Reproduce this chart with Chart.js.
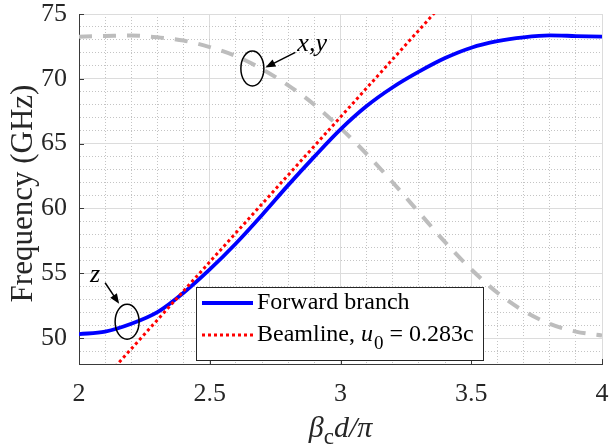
<!DOCTYPE html>
<html>
<head>
<meta charset="utf-8">
<script src="https://cdn.jsdelivr.net/npm/chart.js@4/dist/chart.umd.min.js"></script>
<style>
  html, body { margin: 0; padding: 0; background: #fff; }
  #wrap { width: 610px; height: 448px; position: relative; }
</style>
</head>
<body>
<div id="wrap"><canvas id="myChart"></canvas></div>
<script>
// DATA
const betaValues = [2.0, 2.1, 2.2, 2.3, 2.4, 2.5, 2.6, 2.7, 2.8, 2.9, 3.0,
                    3.1, 3.2, 3.3, 3.4, 3.5, 3.6, 3.7, 3.8, 3.9, 4.0];
const forwardBranch = [50.3, 50.5, 51.1, 52.0, 53.5, 55.3, 57.3, 59.5, 61.8, 64.0, 66.1,
                       67.9, 69.35, 70.55, 71.6, 72.4, 72.9, 73.2, 73.35, 73.3, 73.25];
const xyBranch = [73.25, 73.3, 73.35, 73.2, 72.95, 72.45, 71.75, 70.75, 69.5, 68.0, 66.2,
                  64.2, 62.0, 59.7, 57.4, 55.3, 53.5, 52.1, 51.1, 50.5, 50.2];
const beamX = [2, 4];
const beamY = [44.7, 89.4];
const xTickLabels = ["2", "2.5", "3", "3.5", "4"];
const yTickLabels = ["50", "55", "60", "65", "70", "75"];
const legendLabels = ["Forward branch", "Beamline, "];
const beamSpeed = "0.283c";
const yAxisTitle = "Frequency (GHz)";
const markLabels = ["z", "x,y"];
const markX = [2.184, 2.663];
const markY = [51.26, 70.8];

const serif = "'Liberation Serif', 'Times New Roman', serif";
const axisColor = "#3a3a3a";
const majorGrid = "#dcdcdc";
const minorGrid = "#c4c4c4";

function fmt(v) {
  return String(Math.round(v * 10) / 10);
}
function isMajorX(tick) {
  return tick && xTickLabels.includes(fmt(tick.value));
}
function isMajorY(tick) {
  return tick && yTickLabels.includes(fmt(tick.value));
}

// inward tick marks, MATLAB style
const innerTicks = {
  id: "innerTicks",
  afterDatasetsDraw(chart) {
    const { ctx, chartArea: a, scales } = chart;
    ctx.save();
    ctx.strokeStyle = axisColor;
    ctx.lineWidth = 1;
    ctx.beginPath();
    xTickLabels.forEach((t) => {
      const px = Math.round(scales.x.getPixelForValue(parseFloat(t))) + 0.5;
      ctx.moveTo(px, a.bottom);
      ctx.lineTo(px, a.bottom - 5);
    });
    yTickLabels.forEach((t) => {
      const py = Math.round(scales.y.getPixelForValue(parseFloat(t))) + 0.5;
      ctx.moveTo(a.left, py);
      ctx.lineTo(a.left + 5, py);
    });
    ctx.stroke();
    ctx.restore();
  },
};

function arrow(ctx, x1, y1, x2, y2) {
  const ang = Math.atan2(y2 - y1, x2 - x1);
  ctx.beginPath();
  ctx.moveTo(x1, y1);
  ctx.lineTo(x2 - 7 * Math.cos(ang), y2 - 7 * Math.sin(ang));
  ctx.stroke();
  ctx.beginPath();
  ctx.moveTo(x2, y2);
  ctx.lineTo(x2 - 10 * Math.cos(ang) + 4 * Math.sin(ang), y2 - 10 * Math.sin(ang) - 4 * Math.cos(ang));
  ctx.lineTo(x2 - 10 * Math.cos(ang) - 4 * Math.sin(ang), y2 - 10 * Math.sin(ang) + 4 * Math.cos(ang));
  ctx.closePath();
  ctx.fill();
}

// ellipses + arrows marking the polarisations
const marks = {
  id: "marks",
  afterDatasetsDraw(chart) {
    const { ctx, scales } = chart;
    ctx.save();
    ctx.strokeStyle = "#000";
    ctx.fillStyle = "#000";
    ctx.lineWidth = 1.5;
    ctx.font = "italic 26px " + serif;
    ctx.textBaseline = "alphabetic";

    // z
    let cx = scales.x.getPixelForValue(markX[0]);
    let cy = scales.y.getPixelForValue(markY[0]);
    ctx.beginPath();
    ctx.ellipse(cx, cy, 12, 17.5, 0, 0, Math.PI * 2);
    ctx.stroke();
    arrow(ctx, cx - 22, cy - 39, cx - 8, cy - 18);
    ctx.fillText(markLabels[0], cx - 37, cy - 40);

    // x,y
    cx = scales.x.getPixelForValue(markX[1]);
    cy = scales.y.getPixelForValue(markY[1]);
    ctx.beginPath();
    ctx.ellipse(cx, cy, 11.5, 17.5, 0, 0, Math.PI * 2);
    ctx.stroke();
    arrow(ctx, cx + 43, cy - 16, cx + 13, cy - 1);
    ctx.fillText(markLabels[1], cx + 45, cy - 17);
    ctx.restore();
  },
};

// legend with italic u and subscript 0
const boxLegend = {
  id: "boxLegend",
  afterDraw(chart) {
    const { ctx, chartArea: a } = chart;
    const left = a.left + 117, top = a.top + 273, w = 287, h = 73;
    ctx.save();
    ctx.fillStyle = "#fff";
    ctx.fillRect(left, top, w, h);
    ctx.strokeStyle = "#262626";
    ctx.lineWidth = 1;
    ctx.strokeRect(Math.round(left) + 0.5, Math.round(top) + 0.5, w, h);

    const rows = [top + 16, top + 48];
    const ds = chart.data.datasets;
    [0, 1].forEach((i) => {
      const d = ds.find((s) => s.label === legendLabels[i]);
      ctx.strokeStyle = d.borderColor;
      ctx.lineWidth = d.borderWidth;
      ctx.setLineDash(d.borderDash || []);
      ctx.beginPath();
      ctx.moveTo(left + 6, rows[i]);
      ctx.lineTo(left + 57, rows[i]);
      ctx.stroke();
    });
    ctx.setLineDash([]);
    ctx.fillStyle = "#000";
    ctx.textBaseline = "middle";
    ctx.font = "24px " + serif;
    let x = left + 61;
    ctx.fillText(legendLabels[0], x, rows[0]);
    ctx.fillText(legendLabels[1], x, rows[1]);
    x += ctx.measureText(legendLabels[1]).width;
    ctx.font = "italic 24px " + serif;
    ctx.fillText("u", x, rows[1]);
    x += ctx.measureText("u").width + 1;
    ctx.font = "19px " + serif;
    ctx.fillText("0", x, rows[1] + 9);
    x += ctx.measureText("0").width;
    ctx.font = "24px " + serif;
    ctx.fillText(" = " + beamSpeed, x, rows[1]);
    ctx.restore();
  },
};

// axis titles (x title needs a subscript)
const axisTitles = {
  id: "axisTitles",
  afterDraw(chart) {
    const { ctx, chartArea: a } = chart;
    const parts = [
      { t: "\u03B2", f: "italic 30px " + serif, dy: 0 },
      { t: "c", f: "23px " + serif, dy: 7 },
      { t: "d/\u03C0", f: "italic 30px " + serif, dy: 0 },
    ];
    ctx.save();
    let total = 0;
    parts.forEach((p) => { ctx.font = p.f; p.w = ctx.measureText(p.t).width; total += p.w; });
    let x = (a.left + a.right) / 2 - total / 2;
    const base = a.bottom + 73;
    ctx.fillStyle = "#262626";
    ctx.textBaseline = "alphabetic";
    parts.forEach((p) => {
      ctx.font = p.f;
      ctx.fillText(p.t, x, base + p.dy);
      x += p.w;
    });

    ctx.translate(32, (a.top + a.bottom) / 2 + 4.5);
    ctx.rotate(-Math.PI / 2);
    ctx.font = "31px " + serif;
    ctx.textAlign = "center";
    ctx.fillText(yAxisTitle, 0, 0);
    ctx.restore();
  },
};

const ctx = document.getElementById("myChart");
const myChart = new Chart(ctx, {
  type: "line",
  data: {
    datasets: [
      {
        label: legendLabels[1],
        data: beamX.map((x, i) => ({ x: x, y: beamY[i] })),
        borderColor: "#ff0000",
        borderWidth: 3,
        borderDash: [3, 3],
        pointRadius: 0,
        order: 0,
      },
      {
        label: legendLabels[0],
        data: betaValues.map((x, i) => ({ x: x, y: forwardBranch[i] })),
        borderColor: "#0000ff",
        borderWidth: 3.8,
        pointRadius: 0,
        cubicInterpolationMode: "monotone",
        order: 1,
      },
      {
        label: "x,y",
        data: betaValues.map((x, i) => ({ x: x, y: xyBranch[i] })),
        borderColor: "#bdbdbd",
        borderWidth: 4,
        borderDash: [13, 11],
        pointRadius: 0,
        cubicInterpolationMode: "monotone",
        order: 2,
      },
    ],
  },
  options: {
    responsive: true,
    maintainAspectRatio: false,
    animation: false,
    layout: { padding: { left: 0, right: 8, top: 14, bottom: 0 } },
    plugins: {
      legend: { display: false },
      tooltip: { enabled: false },
    },
    scales: {
      x: {
        type: "linear",
        min: 2,
        max: 4,
        afterFit(s) {
          s.height = 84;
          s.paddingLeft = 0; s.paddingRight = 0; s.paddingTop = 0; s.paddingBottom = 0;
        },
        ticks: {
          stepSize: 0.1,
          autoSkip: false,
          maxRotation: 0,
          padding: 15,
          color: "#262626",
          font: { family: serif, size: 26 },
          callback: (v) => (xTickLabels.includes(fmt(v)) ? fmt(v) : ""),
        },
        grid: {
          drawTicks: false,
          lineWidth: 1,
          color: (c) => (isMajorX(c.tick) ? majorGrid : minorGrid),
        },
        border: {
          color: axisColor,
          width: 1,
          dash: (c) => (c.tick && !isMajorX(c.tick) ? [1, 2] : []),
        },
      },
      y: {
        type: "linear",
        min: 48,
        max: 75,
        afterFit(s) {
          s.width = 79;
          s.paddingLeft = 0; s.paddingRight = 0; s.paddingTop = 0; s.paddingBottom = 0;
        },
        ticks: {
          stepSize: 1,
          autoSkip: false,
          padding: 12,
          color: "#262626",
          font: { family: serif, size: 26 },
          callback: (v) => (yTickLabels.includes(fmt(v)) ? fmt(v) : ""),
        },
        grid: {
          drawTicks: false,
          lineWidth: 1,
          color: (c) => (isMajorY(c.tick) ? majorGrid : minorGrid),
        },
        border: {
          color: axisColor,
          width: 1,
          dash: (c) => (c.tick && !isMajorY(c.tick) ? [1, 2] : []),
        },
      },
    },
  },
  plugins: [innerTicks, marks, boxLegend, axisTitles],
});
</script>
</body>
</html>
